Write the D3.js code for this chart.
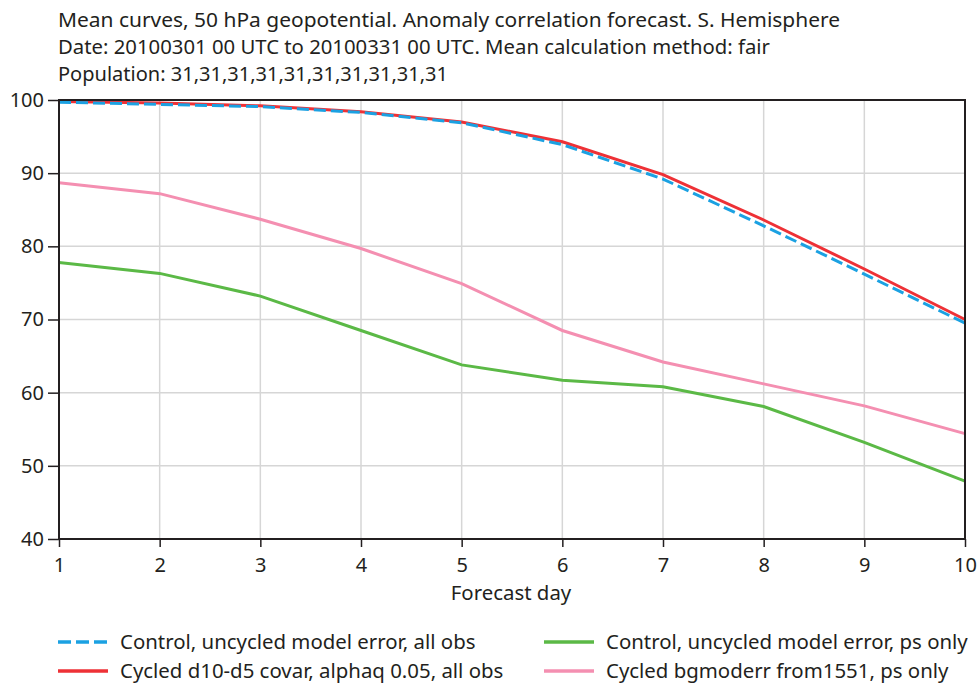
<!DOCTYPE html>
<html><head><meta charset="utf-8">
<script src="https://cdn.jsdelivr.net/npm/d3@7"></script>
<style>body{margin:0;background:#fff}svg{display:block}text{font-family:"Noto Sans",sans-serif;fill:#231f20}</style>
</head><body>
<script>
const days = [1,2,3,4,5,6,7,8,9,10];
const yTicks = [40,50,60,70,80,90,100];
const titleLines = [
  "Mean curves, 50 hPa geopotential. Anomaly correlation forecast. S. Hemisphere",
  "Date: 20100301 00 UTC to 20100331 00 UTC. Mean calculation method: fair",
  "Population: 31,31,31,31,31,31,31,31,31,31"
];
const controlAll   = [99.7,99.4,99.1,98.3,96.9,93.9,89.2,82.8,76.2,69.5];
const cycledAll    = [99.8,99.6,99.2,98.4,97.0,94.3,89.8,83.6,76.9,70.0];
const controlPs    = [77.8,76.3,73.2,68.5,63.8,61.7,60.8,58.1,53.2,47.9];
const cycledPs     = [88.7,87.2,83.7,79.7,74.9,68.5,64.2,61.2,58.2,54.4];
const seriesNames  = ["Control, uncycled model error, all obs","Cycled d10-d5 covar, alphaq 0.05, all obs","Control, uncycled model error, ps only","Cycled bgmoderr from1551, ps only"];
const seriesColors = ["#1ba1e2","#ee3136","#5bb946","#f48fb1"];
const seriesData   = [controlAll, cycledAll, controlPs, cycledPs];

const W=977,H=684, L=59, R=965, T=100, B=539;
const svg=d3.select("body").append("svg").attr("width",W).attr("height",H);
const x=d3.scaleLinear().domain([1,10]).range([L,R]);
const y=d3.scaleLinear().domain([40,100]).range([B,T]);

const titleWidths=[782,712,390];
svg.selectAll(".title").data(titleLines).enter().append("text")
  .attr("x",58).attr("y",(d,i)=>27+i*27).attr("font-size",20.8)
  .attr("textLength",(d,i)=>titleWidths[i]).attr("lengthAdjust","spacingAndGlyphs").text(d=>d);

// grid
svg.append("g").selectAll("line").data(days).enter().append("line")
  .attr("x1",d=>x(d)).attr("x2",d=>x(d)).attr("y1",T).attr("y2",B)
  .attr("stroke","#d6d6d6").attr("stroke-width",1.5);
svg.append("g").selectAll("line").data(yTicks).enter().append("line")
  .attr("x1",L).attr("x2",R).attr("y1",d=>y(d)).attr("y2",d=>y(d))
  .attr("stroke","#d6d6d6").attr("stroke-width",1.5);

// series
const line=d3.line().x((d,i)=>x(days[i])).y(d=>y(d));
[3,2,1,0].forEach(k=>{
  svg.append("path").datum(seriesData[k]).attr("d",line).attr("fill","none")
    .attr("stroke",seriesColors[k]).attr("stroke-width",3)
    .attr("stroke-dasharray",k===0?"12,5":null);
});

// frame
svg.append("rect").attr("x",L).attr("y",T).attr("width",R-L).attr("height",B-T)
  .attr("fill","none").attr("stroke","#231f20").attr("stroke-width",2);

// axes
const ax=svg.append("g").attr("transform",`translate(0,${B})`)
  .call(d3.axisBottom(x).tickValues(days).tickFormat(d3.format("d")).tickSize(8).tickPadding(11));
const ay=svg.append("g").attr("transform",`translate(${L},0)`)
  .call(d3.axisLeft(y).tickValues(yTicks).tickSize(11).tickPadding(4));
[ax,ay].forEach(g=>{
  g.select(".domain").remove();
  g.selectAll(".tick line").attr("stroke","#231f20").attr("stroke-width",1.5);
  g.selectAll(".tick text").attr("font-size",20).attr("font-family","Noto Sans").attr("fill","#231f20");
});
svg.append("text").attr("x",(L+R)/2-1).attr("y",600).attr("text-anchor","middle")
  .attr("font-size",20.4).text("Forecast day");

// legend
const legPos=[[58,642],[58,671],[544,642],[544,671]];
seriesNames.forEach((n,k)=>{
  const [lx,ly]=legPos[k];
  svg.append("line").attr("x1",lx).attr("x2",lx+50).attr("y1",ly).attr("y2",ly)
    .attr("stroke",seriesColors[k]).attr("stroke-width",3.5)
    .attr("stroke-dasharray",k===0?"13,5":null);
  svg.append("text").attr("x",lx+62).attr("y",ly+7).attr("font-size",20.4).text(n);
});
</script>
</body></html>
